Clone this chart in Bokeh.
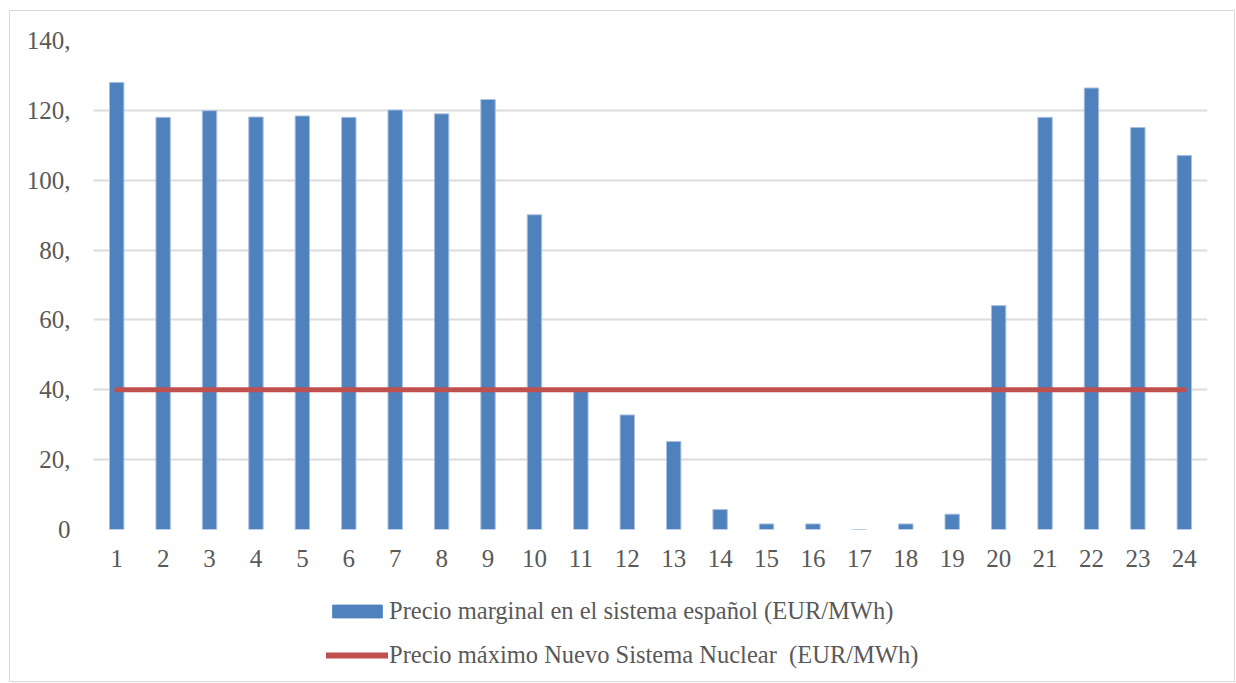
from bokeh.plotting import figure
from bokeh.layouts import column
from bokeh.models import FactorRange, Range1d, FixedTicker, Legend, LegendItem, ColumnDataSource
from bokeh.embed import file_html
from bokeh.resources import INLINE

# ---- data ----
hours = [str(i) for i in range(1, 25)]
precio_marginal = [128.0, 118.0, 119.9, 118.1, 118.4, 118.0, 120.1, 119.0, 123.1, 90.1,
                   39.6, 32.8, 25.2, 5.7, 1.6, 1.6, 0.0, 1.6, 4.4, 64.1,
                   118.0, 126.4, 115.1, 107.1]
precio_max_nuclear = [40.0] * 24
y_ticks = [0, 20, 40, 60, 80, 100, 120, 140]
y_tick_labels = ["0", "20,", "40,", "60,", "80,", "100,", "120,", "140,"]
series_labels = ["Precio marginal en el sistema español (EUR/MWh)",
                 "Precio máximo Nuevo Sistema Nuclear  (EUR/MWh)"]

FONT = "Liberation Serif"
TXT = "#595959"
GRID = "#DCDCDC"
BAR_FILL = "#4F81BD"
BAR_EDGE = "#A9C0E0"
LINE_COL = "#C0504D"

src = ColumnDataSource(dict(hour=hours, marginal=precio_marginal, nuclear=precio_max_nuclear))

# ---- main chart ----
p = figure(width=1224, height=578, output_backend="svg", toolbar_location=None,
           x_range=FactorRange(factors=hours, range_padding=0),
           y_range=Range1d(0, 140),
           min_border_left=83, min_border_right=27, min_border_top=29, min_border_bottom=60)
p.outline_line_color = None
p.background_fill_color = "white"
p.border_fill_color = "white"

bars = p.vbar(x="hour", top="marginal", width=0.31, source=src,
              fill_color=BAR_FILL, line_color=BAR_EDGE, line_width=1)
line = p.line(x="hour", y="nuclear", source=src, line_color=LINE_COL, line_width=5,
              line_cap="round")

p.yaxis.ticker = FixedTicker(ticks=y_ticks)
p.yaxis.major_label_overrides = {t: l for t, l in zip(y_ticks, y_tick_labels)}
for ax in (p.xaxis[0], p.yaxis[0]):
    ax.axis_line_color = None
    ax.major_tick_line_color = None
    ax.minor_tick_line_color = None
    ax.major_tick_out = 0
    ax.major_tick_in = 0
    ax.major_label_text_font = FONT
    ax.major_label_text_font_size = "25px"
    ax.major_label_text_color = TXT
p.yaxis.major_label_standoff = 23
p.xaxis.major_label_standoff = 20

p.xgrid.grid_line_color = None
p.ygrid.grid_line_color = GRID
p.ygrid.grid_line_width = 2
p.ygrid.ticker = FixedTicker(ticks=y_ticks)

# ---- legend strip (renderers lie outside its visible range; only the legend shows) ----
q = figure(width=1224, height=92, output_backend="svg", toolbar_location=None,
           x_range=FactorRange(factors=hours, range_padding=0),
           y_range=Range1d(1000, 1001),
           min_border_left=0, min_border_right=0, min_border_top=0, min_border_bottom=0)
q.axis.visible = False
q.grid.grid_line_color = None
q.outline_line_color = None
q.border_fill_color = "white"
lbars = q.vbar(x="hour", top="marginal", width=0.31, source=src,
               fill_color=BAR_FILL, line_color=BAR_FILL, line_width=1)
lline = q.line(x="hour", y="nuclear", source=src, line_color=LINE_COL, line_width=6,
               line_cap="round")

legend = Legend(items=[LegendItem(label=series_labels[0], renderers=[lbars]),
                       LegendItem(label=series_labels[1], renderers=[lline])],
                location=(233, 12), orientation="vertical",
                glyph_width=62, glyph_height=16, label_standoff=1,
                label_text_font=FONT, label_text_font_size="24.5px", label_text_color=TXT,
                label_height=28, spacing=16, padding=0, margin=0,
                border_line_color=None, background_fill_alpha=0)
q.add_layout(legend, "center")

layout = column(p, q, spacing=0,
                styles={"border": "1px solid #D9D9D9", "margin-left": "9px",
                        "margin-top": "10px", "background-color": "white"})

open("out.html", "w").write(file_html(layout, INLINE))
